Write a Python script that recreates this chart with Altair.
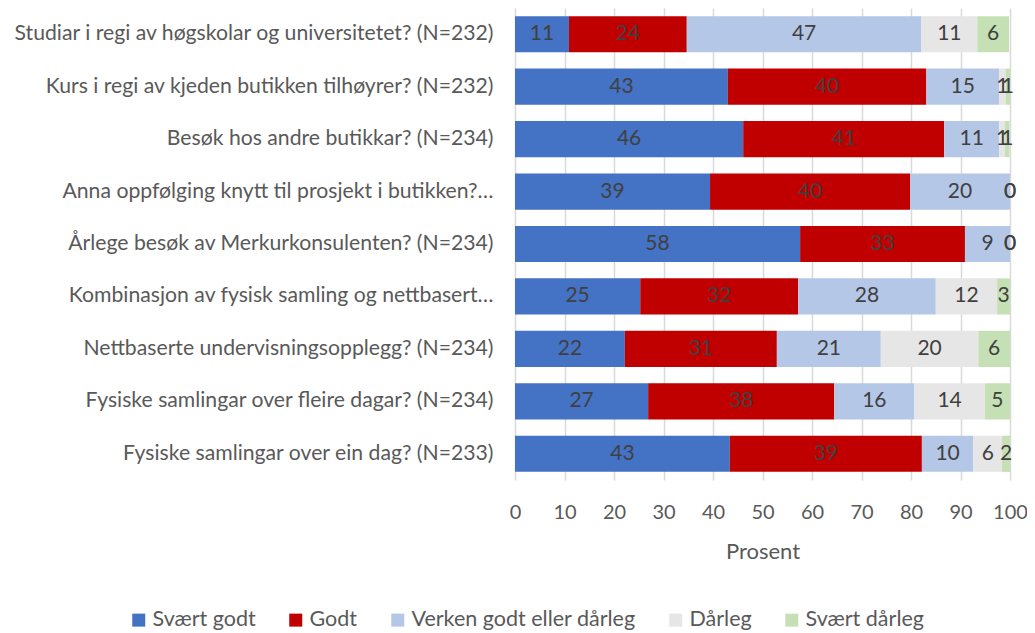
import altair as alt
import pandas as pd

categories = [
    "Studiar i regi av høgskolar og universitetet? (N=232)",
    "Kurs i regi av kjeden butikken tilhøyrer? (N=232)",
    "Besøk hos andre butikkar? (N=234)",
    "Anna oppfølging knytt til prosjekt i butikken?…",
    "Årlege besøk av Merkurkonsulenten? (N=234)",
    "Kombinasjon av fysisk samling og nettbasert…",
    "Nettbaserte undervisningsopplegg? (N=234)",
    "Fysiske samlingar over fleire dagar? (N=234)",
    "Fysiske samlingar over ein dag? (N=233)",
]
series = ["Svært godt", "Godt", "Verken godt eller dårleg", "Dårleg", "Svært dårleg"]
colors = ["#4472C4", "#C00000", "#B4C7E7", "#E7E6E6", "#C5E0B4"]

svart_godt = [10.9, 43.0, 46.1, 39.4, 57.6, 25.3, 22.2, 26.9, 43.4]
godt = [23.8, 40.1, 40.6, 40.4, 33.3, 31.9, 30.7, 37.6, 38.8]
verken = [47.4, 14.7, 11.1, 20.2, 9.1, 27.8, 21.0, 16.2, 10.4]
darleg = [11.3, 1.3, 1.2, 0.0, 0.0, 12.4, 19.7, 14.2, 5.8]
svart_darleg = [6.4, 0.9, 0.9, 0.0, 0.0, 2.6, 6.4, 5.1, 1.6]

values = [svart_godt, godt, verken, darleg, svart_darleg]
rows = []
for si, (s, vals) in enumerate(zip(series, values)):
    for c, v in zip(categories, vals):
        rows.append({"category": c, "series": s, "order": si, "value": v})
df = pd.DataFrame(rows)

FONT = "Lato"

base = alt.Chart(df).transform_stack(
    stack="value",
    as_=["x0", "x1"],
    groupby=["category"],
    sort=[alt.SortField("order", order="ascending")],
).transform_calculate(mid="(datum.x0 + datum.x1) / 2")

y_enc = alt.Y(
    "category:N",
    sort=categories,
    title=None,
    scale=alt.Scale(paddingInner=0.31, paddingOuter=0.155),
    axis=alt.Axis(ticks=False, domain=False, labelPadding=22, labelFontSize=21.2,
                  labelFont=FONT, labelColor="#595959", labelLimit=600),
)

bars = base.mark_bar().encode(
    x=alt.X(
        "x0:Q",
        scale=alt.Scale(domain=[0, 100], nice=False),
        title="Prosent",
        axis=alt.Axis(values=list(range(0, 101, 10)), grid=True, gridColor="#D9D9D9",
                      gridWidth=1.5, ticks=False, domain=False, labelPadding=22,
                      labelFlush=False, labelOverlap=False,
                      labelFontSize=20, labelFont=FONT, labelColor="#595959",
                      titleFont=FONT, titleFontSize=22, titleColor="#595959",
                      titleFontWeight="normal", titlePadding=19),
    ),
    x2="x1:Q",
    y=y_enc,
    color=alt.Color(
        "series:N",
        scale=alt.Scale(domain=series, range=colors),
        legend=alt.Legend(title=None, orient="none", direction="horizontal",
                          legendX=-387, legendY=601, symbolType="square",
                          symbolSize=169, symbolStrokeWidth=0, labelFont=FONT,
                          labelFontSize=21.5, labelColor="#595959", labelOffset=3,
                          labelLimit=400, columnPadding=29),
    ),
    order=alt.Order("order:Q"),
)

labels = base.mark_text(font=FONT, fontSize=21, color="#404040").encode(
    x=alt.X("mid:Q"),
    y=alt.Y("category:N", sort=categories),
    text=alt.Text("value:Q", format=".0f"),
)

chart = alt.layer(bars, labels).properties(
    width=495,
    height=472,
    autosize=alt.AutoSizeParams(type="none"),
    padding={"left": 507, "top": 0, "right": 17, "bottom": 165},
).configure_view(stroke=None)

chart.save("out.html", embed_options={"renderer": "svg", "actions": False})
